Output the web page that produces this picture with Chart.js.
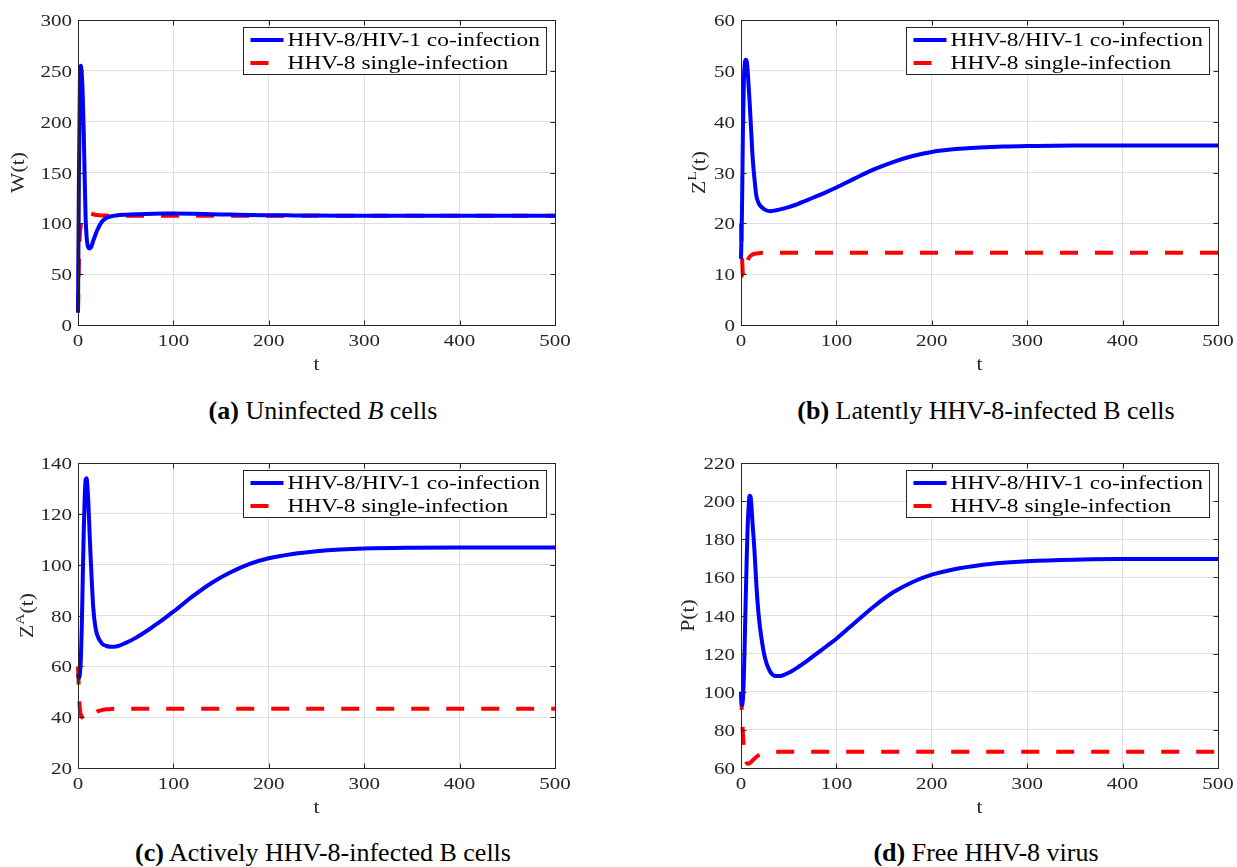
<!DOCTYPE html>
<html>
<head>
<meta charset="utf-8">
<script src="https://cdn.jsdelivr.net/npm/chart.js@4.4.0/dist/chart.umd.min.js"></script>
<style>
  body { margin: 0; background: #fff; width: 1237px; height: 867px; position: relative; overflow: hidden; }
  .panel { position: absolute; width: 580px; height: 380px; }
  .caption {
    position: absolute; transform: translateX(-50%); white-space: nowrap;
    font-family: 'Liberation Serif', 'Times New Roman', serif; font-size: 26px; line-height: 30px; color: #000;
  }
</style>
</head>
<body>
<div class="panel" style="left:0;top:0"><canvas id="chartW" width="580" height="380"></canvas></div>
<div class="panel" style="left:663px;top:0"><canvas id="chartZL" width="580" height="380"></canvas></div>
<div class="panel" style="left:0;top:443px"><canvas id="chartZA" width="580" height="380"></canvas></div>
<div class="panel" style="left:663px;top:443px"><canvas id="chartP" width="580" height="380"></canvas></div>

<div class="caption" style="left:323px;top:396px"><b>(a)</b> Uninfected <i>B</i> cells</div>
<div class="caption" style="left:986px;top:396px"><b>(b)</b> Latently HHV-8-infected B cells</div>
<div class="caption" style="left:323px;top:838px"><b>(c)</b> Actively HHV-8-infected B cells</div>
<div class="caption" style="left:986px;top:838px"><b>(d)</b> Free HHV-8 virus</div>

<script>
// sample times (dense at the start where the transients are)
const tPoints = [0, 1, 2, 3, 4, 5, 6, 7, 8, 9, 10, 11, 12, 13, 14, 16, 18, 20, 25, 30, 35, 40,
                 50, 60, 70, 80, 90, 100, 120, 140, 160, 180, 200, 225, 250, 275, 300, 350, 400, 450, 500];

const seriesNames = ['HHV-8/HIV-1 co-infection', 'HHV-8 single-infection'];

// W(t): uninfected B cells
const wCoinf = [12, 150, 240, 255, 246, 225, 190, 145, 105, 87, 79, 76, 75.3, 75.8, 77, 83, 88, 93, 101.5, 105.5, 107, 107.8,
                108.5, 109, 109.3, 109.5, 109.6, 109.6, 109.4, 109, 108.6, 108.2, 108, 107.8, 107.6, 107.5, 107.5, 107.5, 107.5, 107.5, 107.5];
const wSingle = [13, 65, 90, 98, 101, 104, 106.5, 108, 109.3, 110, 110.3, 110.2, 110, 109.7, 109.4, 108.9, 108.5, 108.2, 107.8, 107.6, 107.5, 107.5,
                 107.5, 107.5, 107.5, 107.5, 107.5, 107.5, 107.5, 107.5, 107.5, 107.5, 107.5, 107.5, 107.5, 107.5, 107.5, 107.5, 107.5, 107.5, 107.5];

// Z^L(t): latently infected B cells
const zlCoinf = [13, 22, 38, 48, 51.5, 52.2, 51.8, 50, 47, 44, 40.5, 37, 33.5, 31, 29, 25.5, 24.2, 23.5, 22.7, 22.4, 22.5, 22.7,
                 23.2, 23.85, 24.6, 25.4, 26.2, 27.05, 28.9, 30.65, 32.1, 33.25, 34.05, 34.6, 34.9, 35.1, 35.2, 35.3, 35.3, 35.3, 35.3];
const zlSingle = [20, 14, 10, 9.6, 10.5, 11.5, 12.2, 12.7, 13.1, 13.4, 13.6, 13.75, 13.85, 13.95, 14, 14.05, 14.1, 14.15, 14.2, 14.2, 14.2, 14.2,
                  14.2, 14.2, 14.2, 14.2, 14.2, 14.2, 14.2, 14.2, 14.2, 14.2, 14.2, 14.2, 14.2, 14.2, 14.2, 14.2, 14.2, 14.2, 14.2];

// Z^A(t): actively infected B cells
const zaCoinf = [57, 55.5, 57, 63, 76, 95, 113, 126, 133.5, 134, 130, 123, 114, 105, 97, 83, 76, 72.5, 69, 68, 67.7, 67.8,
                 69.2, 71.1, 73.4, 76, 78.7, 81.5, 87.5, 92.8, 97, 100.3, 102.5, 104.2, 105.3, 106, 106.4, 106.7, 106.8, 106.8, 106.8];
const zaSingle = [60, 50, 43, 41, 40.2, 39.7, 39.3, 39.1, 38.9, 38.85, 38.9, 39.1, 39.5, 39.9, 40.3, 41.1, 41.7, 42.2, 42.8, 43.1, 43.25, 43.3,
                  43.3, 43.3, 43.3, 43.3, 43.3, 43.3, 43.3, 43.3, 43.3, 43.3, 43.3, 43.3, 43.3, 43.3, 43.3, 43.3, 43.3, 43.3, 43.3];

// P(t): free virus
const pCoinf = [100, 93, 96, 108, 128, 150, 170, 187, 197, 202.8, 202.5, 197, 189, 182, 175, 157, 143, 133.5, 118, 111, 108.4, 108.2,
                110, 113, 116.5, 120.3, 124, 127.8, 136.5, 145, 152.3, 157.6, 161.4, 164.4, 166.4, 167.7, 168.5, 169.3, 169.6, 169.7, 169.7];
const pSingle = [100, 88, 78, 71, 66.5, 64, 62.7, 62.2, 62.2, 62.5, 62.9, 63.4, 63.9, 64.4, 64.9, 65.8, 66.5, 67, 67.8, 68.2, 68.4, 68.5,
                 68.5, 68.5, 68.5, 68.5, 68.5, 68.5, 68.5, 68.5, 68.5, 68.5, 68.5, 68.5, 68.5, 68.5, 68.5, 68.5, 68.5, 68.5, 68.5];

// axis limits: [min, max, step]
const xRange = [0, 500, 100];
const yRangeW = [0, 300, 50];
const yRangeZL = [0, 60, 10];
const yRangeZA = [20, 140, 20];
const yRangeP = [60, 220, 20];

const AXIS_COLOR = '#262626';
const GRID_COLOR = '#dfdfdf';
const FONT = "'Liberation Serif', serif";
const WIDE = 1.2;  // the axis lettering is a wide face, so serif text is stretched sideways

function toPoints(values) {
  return tPoints.map((t, i) => ({ x: t, y: values[i] }));
}

function wideText(ctx, text, x, y, size, align, baseline) {
  ctx.save();
  ctx.translate(x, y);
  ctx.scale(WIDE, 1);
  ctx.font = size + 'px ' + FONT;
  ctx.textAlign = align;
  ctx.textBaseline = baseline;
  ctx.fillText(text, 0, 0);
  ctx.restore();
}

// box, inward ticks, tick labels, axis labels and the legend box
const framePlugin = {
  id: 'frame',
  afterDraw(chart, args, opts) {
    const ctx = chart.ctx;
    const a = chart.chartArea;
    const xs = chart.scales.x, ys = chart.scales.y;
    const L = Math.round(a.left) + 0.5, R = Math.round(a.right) + 0.5;
    const T = Math.round(a.top) + 0.5, B = Math.round(a.bottom) + 0.5;

    ctx.save();
    ctx.strokeStyle = AXIS_COLOR;
    ctx.lineWidth = 1;
    ctx.strokeRect(L, T, R - L, B - T);
    ctx.beginPath();
    xs.ticks.forEach(tk => {
      const px = Math.round(xs.getPixelForValue(tk.value)) + 0.5;
      ctx.moveTo(px, B); ctx.lineTo(px, B - 5);
      ctx.moveTo(px, T); ctx.lineTo(px, T + 5);
    });
    ys.ticks.forEach(tk => {
      const py = Math.round(ys.getPixelForValue(tk.value)) + 0.5;
      ctx.moveTo(L, py); ctx.lineTo(L + 5, py);
      ctx.moveTo(R, py); ctx.lineTo(R - 5, py);
    });
    ctx.stroke();

    // tick labels
    ctx.fillStyle = AXIS_COLOR;
    xs.ticks.forEach(tk => {
      wideText(ctx, String(tk.value), xs.getPixelForValue(tk.value), a.bottom + 16.5, 17.5, 'center', 'middle');
    });
    ys.ticks.forEach(tk => {
      wideText(ctx, String(tk.value), a.left - 6, ys.getPixelForValue(tk.value) + 1.5, 17.5, 'right', 'middle');
    });
    wideText(ctx, 't', (a.left + a.right) / 2, a.bottom + 40, 18, 'center', 'middle');

    // y axis label with optional superscript
    const lab = opts.label;
    ctx.translate(a.left - opts.labelOffset, (a.top + a.bottom) / 2);
    ctx.rotate(-Math.PI / 2);
    ctx.scale(WIDE, 1);
    ctx.textBaseline = 'alphabetic';
    const big = '18px ' + FONT, small = '13px ' + FONT;
    ctx.font = big;
    const wBase = ctx.measureText(lab.base).width;
    const wRest = ctx.measureText(lab.rest).width;
    ctx.font = small;
    const wSup = lab.sup ? ctx.measureText(lab.sup).width : 0;
    let x = -(wBase + wSup + wRest) / 2;
    ctx.font = big;
    ctx.fillText(lab.base, x, 0);
    x += wBase;
    if (lab.sup) {
      ctx.font = small;
      ctx.fillText(lab.sup, x, -9);
      x += wSup;
      ctx.font = big;
    }
    ctx.fillText(lab.rest, x, 0);
    ctx.restore();

    // legend
    const bw = 303, bh = 47;
    const bx = Math.round(a.right) - 9 - bw + 0.5;
    const by = Math.round(a.top) + 7 + 0.5;
    ctx.save();
    ctx.fillStyle = '#fff';
    ctx.fillRect(bx, by, bw, bh);
    ctx.strokeStyle = AXIS_COLOR;
    ctx.lineWidth = 1;
    ctx.strokeRect(bx, by, bw, bh);
    chart.data.datasets.forEach((ds, i) => {
      const cy = by + 12.5 + i * 23;
      ctx.beginPath();
      ctx.strokeStyle = ds.borderColor;
      ctx.lineWidth = ds.borderWidth;
      ctx.lineCap = 'butt';
      ctx.setLineDash(ds.borderDash || []);
      ctx.moveTo(bx + 7, cy);
      ctx.lineTo(bx + 40, cy);
      ctx.stroke();
      ctx.setLineDash([]);
      ctx.fillStyle = '#000';
      wideText(ctx, ds.label, bx + 44, cy + 1, 19.5, 'left', 'middle');
    });
    ctx.restore();
  }
};

function makeChart(id, coinf, single, yRange, label, labelOffset) {
  const ctx = document.getElementById(id).getContext('2d');
  return new Chart(ctx, {
    type: 'line',
    data: {
      datasets: [{
        label: seriesNames[0],
        data: toPoints(coinf),
        borderColor: '#0000ff',
        borderWidth: 4,
        borderJoinStyle: 'round',
        pointRadius: 0,
        cubicInterpolationMode: 'monotone',
        clip: false
      }, {
        label: seriesNames[1],
        data: toPoints(single),
        borderColor: '#ff0000',
        borderWidth: 4,
        borderDash: [18, 17],
        borderCapStyle: 'butt',
        pointRadius: 0,
        cubicInterpolationMode: 'monotone',
        clip: false
      }]
    },
    options: {
      responsive: false,
      animation: false,
      events: [],
      layout: { padding: { left: 0, right: 25, top: 20, bottom: 0 } },
      plugins: {
        legend: { display: false },
        tooltip: { enabled: false },
        frame: { label, labelOffset }
      },
      scales: {
        x: {
          type: 'linear',
          min: xRange[0],
          max: xRange[1],
          afterFit: s => { s.height = 55; },
          grid: { color: GRID_COLOR, drawTicks: false },
          border: { display: false },
          ticks: { stepSize: xRange[2], display: false }
        },
        y: {
          min: yRange[0],
          max: yRange[1],
          afterFit: s => { s.width = 78; },
          grid: { color: GRID_COLOR, drawTicks: false },
          border: { display: false },
          ticks: { stepSize: yRange[2], display: false }
        }
      }
    },
    plugins: [framePlugin]
  });
}

makeChart('chartW', wCoinf, wSingle, yRangeW, { base: 'W', sup: '', rest: '(t)' }, 54);
makeChart('chartZL', zlCoinf, zlSingle, yRangeZL, { base: 'Z', sup: 'L', rest: '(t)' }, 36);
makeChart('chartZA', zaCoinf, zaSingle, yRangeZA, { base: 'Z', sup: 'A', rest: '(t)' }, 45);
makeChart('chartP', pCoinf, pSingle, yRangeP, { base: 'P', sup: '', rest: '(t)' }, 47);
</script>
</body>
</html>
